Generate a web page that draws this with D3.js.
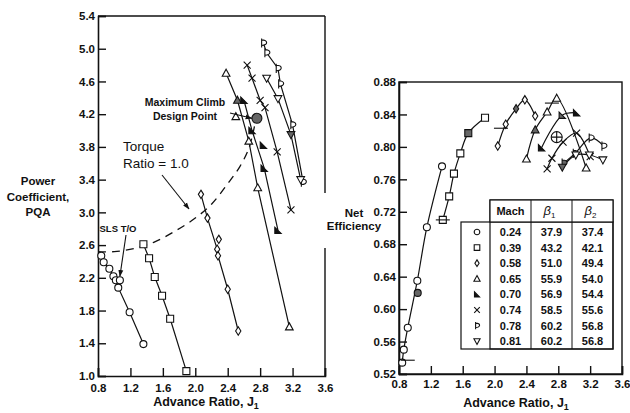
<!DOCTYPE html>
<html>
<head>
<meta charset="utf-8">
<script src="https://cdn.jsdelivr.net/npm/d3@7"></script>
<style>
body { margin: 0; background: #fff; }
text { font-family: "Liberation Sans", Arial, sans-serif; fill: #111; }
</style>
</head>
<body>
<div id="chart"></div>
<script>
// Axis ticks
var jTicks = [0.8, 1.2, 1.6, 2.0, 2.4, 2.8, 3.2, 3.6];
var pqaTicks = [1.0, 1.4, 1.8, 2.2, 2.6, 3.0, 3.4, 3.8, 4.2, 4.6, 5.0, 5.4];
var effTicks = [0.52, 0.56, 0.60, 0.64, 0.68, 0.72, 0.76, 0.80, 0.84, 0.88];

// Legend table
var machs = ["0.24", "0.39", "0.58", "0.65", "0.70", "0.74", "0.78", "0.81"];
var beta1 = ["37.9", "43.2", "51.0", "55.9", "56.9", "58.5", "60.2", "60.2"];
var beta2 = ["37.4", "42.1", "49.4", "54.0", "54.4", "55.6", "56.8", "56.8"];
var symbolTypes = ["circle", "square", "diamond", "triangle", "halftri", "cross", "dflag", "tridown"];

// Power coefficient PQA vs advance ratio J1, one curve per Mach number
var pqaCurves = [
    [[0.84, 2.47], [0.87, 2.39], [0.94, 2.31], [0.99, 2.22], [1.02, 2.17], [1.05, 2.08], [1.19, 1.78], [1.36, 1.39]],
    [[1.36, 2.61], [1.43, 2.44], [1.50, 2.21], [1.59, 1.98], [1.69, 1.70], [1.89, 1.06]],
    [[2.07, 3.22], [2.15, 2.93], [2.27, 2.55], [2.28, 2.47], [2.40, 2.06], [2.53, 1.55]],
    [[2.38, 4.70], [2.52, 4.37], [2.66, 3.87], [2.77, 3.30], [3.16, 1.60]],
    [[2.60, 4.37], [2.70, 4.00], [2.85, 3.54], [3.02, 2.78]],
    [[2.64, 4.80], [2.70, 4.64], [2.80, 4.37], [2.86, 4.28], [3.01, 3.74], [3.18, 3.03]],
    [[2.84, 5.07], [2.88, 4.95], [3.02, 4.76], [3.05, 4.57], [3.20, 4.07], [3.33, 3.37]],
    [[2.88, 4.64], [3.02, 4.39], [3.18, 3.95], [3.30, 3.40]]
];
// markers that sit off the curves: [series, J, PQA]
var pqaLoose = [[0, 1.07, 2.17], [2, 2.29, 2.67], [3, 2.50, 4.17], [4, 2.84, 3.82]];
// shaded (test condition) markers: [series, point index]
var pqaShaded = [[3, 1], [7, 2]];
var torqueRatio = [[0.80, 2.52], [1.00, 2.52], [1.25, 2.56], [1.50, 2.64], [1.75, 2.77], [2.00, 2.93],
    [2.20, 3.10], [2.40, 3.35], [2.55, 3.56], [2.66, 3.78], [2.73, 4.05]];
var pqaDesign = [2.76, 4.15];

// Net efficiency vs advance ratio J1
var effCurves = [
    [[0.84, 0.534], [0.86, 0.550], [0.91, 0.577], [1.03, 0.635], [1.15, 0.701], [1.34, 0.776]],
    [[1.35, 0.710], [1.43, 0.739], [1.49, 0.767], [1.57, 0.792], [1.67, 0.817], [1.88, 0.836]],
    [[2.04, 0.801], [2.14, 0.828], [2.27, 0.847], [2.38, 0.858], [2.51, 0.838]],
    [[2.40, 0.785], [2.51, 0.821], [2.66, 0.843], [2.78, 0.860], [3.15, 0.774]],
    [[2.59, 0.799], [2.85, 0.839], [3.03, 0.842]],
    [[2.66, 0.773], [2.72, 0.786], [2.86, 0.806], [3.03, 0.817], [3.20, 0.788]],
    [[2.87, 0.780], [3.01, 0.792], [3.21, 0.811], [3.37, 0.801]],
    [[2.85, 0.775], [3.02, 0.790], [3.19, 0.790], [3.36, 0.784]]
];
var effLoose = [[0, 1.035, 0.620]];
var effLooseShaded = [true];
var effShaded = [[1, 4], [2, 2], [3, 1], [4, 1], [6, 0], [6, 1], [7, 0]];
var effBars = [[0.91, 0.537], [1.35, 0.710], [2.08, 0.823], [2.72, 0.854]];
var effDesign = [2.78, 0.812];

var width = 630, height = 413;
var svg = d3.select("#chart").append("svg")
    .attr("width", width)
    .attr("height", height);

var defs = svg.append("defs");
defs.append("marker")
    .attr("id", "arrow")
    .attr("viewBox", "0 0 10 10")
    .attr("refX", 9).attr("refY", 5)
    .attr("markerWidth", 7).attr("markerHeight", 7)
    .attr("markerUnits", "userSpaceOnUse")
    .attr("orient", "auto")
    .append("path")
    .attr("d", "M0,1.5 L10,5 L0,8.5 Z")
    .attr("fill", "#111");

// Scales
var xL = d3.scaleLinear().domain([0.8, 3.6]).range([98, 325]);
var yL = d3.scaleLinear().domain([1.0, 5.4]).range([376, 16]);
var xR = d3.scaleLinear().domain([0.8, 3.6]).range([399, 622]);
var yR = d3.scaleLinear().domain([0.52, 0.88]).range([374, 82]);

/**
 * Path for a marker of the given type, centred on 0,0
 */
function markerPath(type, s) {
    switch (type) {
        case "circle": return "M" + s + ",0A" + s + "," + s + " 0 1,1 " + (-s) + ",0A" + s + "," + s + " 0 1,1 " + s + ",0Z";
        case "square": return "M" + (-s) + "," + (-s) + "H" + s + "V" + s + "H" + (-s) + "Z";
        case "diamond": return "M0," + (-1.2 * s) + "L" + (0.75 * s) + ",0L0," + (1.2 * s) + "L" + (-0.75 * s) + ",0Z";
        case "triangle": return "M0," + (-1.15 * s) + "L" + (1.1 * s) + "," + (0.85 * s) + "L" + (-1.1 * s) + "," + (0.85 * s) + "Z";
        case "tridown": return "M0," + (1.15 * s) + "L" + (1.1 * s) + "," + (-0.85 * s) + "L" + (-1.1 * s) + "," + (-0.85 * s) + "Z";
        case "halftri": return "M" + (-0.9 * s) + "," + (-0.9 * s) + "L" + (-0.9 * s) + "," + (0.9 * s) + "L" + (0.9 * s) + "," + (0.9 * s) + "Z";
        case "cross": return "M" + (-s) + "," + (-s) + "L" + s + "," + s + "M" + s + "," + (-s) + "L" + (-s) + "," + s;
        case "dflag": return "M" + (-0.5 * s) + "," + (-1.3 * s) + "V" + (1.3 * s) +
            "M" + (-0.5 * s) + "," + (-0.9 * s) + "C" + (1.4 * s) + "," + (-0.9 * s) + " " + (1.4 * s) + "," + (0.7 * s) + " " + (-0.5 * s) + "," + (0.7 * s);
    }
}

function drawMarker(g, type, x, y, s, shaded) {
    var fill = type == "halftri" ? "#111" : (type == "cross" ? "none" : "#fff");
    if (shaded) fill = "#666";
    g.append("path")
        .attr("transform", "translate(" + x + "," + y + ")")
        .attr("d", markerPath(type, s))
        .attr("fill", fill)
        .attr("stroke", "#111")
        .attr("stroke-width", 1.1);
}

function drawAxes(g, x, y, yTicks, yFmt, xPad, yPad) {
    g.append("g")
        .attr("transform", "translate(0," + y.range()[0] + ")")
        .call(d3.axisBottom(x).tickValues(jTicks).tickFormat(d3.format(".1f")).tickSize(-8).tickPadding(xPad))
        .call(styleAxis);
    g.append("g")
        .attr("transform", "translate(" + x.range()[0] + ",0)")
        .call(d3.axisLeft(y).tickValues(yTicks).tickFormat(d3.format(yFmt)).tickSize(-8).tickPadding(yPad))
        .call(styleAxis);
}

function styleAxis(a) {
    a.select(".domain").attr("stroke", "#111").attr("stroke-width", 1.6);
    a.selectAll(".tick line").attr("stroke", "#111").attr("stroke-width", 1.4);
    a.selectAll(".tick text")
        .attr("font-family", "'Liberation Sans', Arial, sans-serif")
        .attr("font-size", 11.5)
        .attr("font-weight", "bold")
        .attr("fill", "#111");
}

function drawCurves(g, x, y, curves, curve, shadedList) {
    var line = d3.line().x(function(d) { return x(d[0]); }).y(function(d) { return y(d[1]); }).curve(curve);
    curves.forEach(function(pts, i) {
        g.append("path")
            .attr("d", line(pts))
            .attr("fill", "none")
            .attr("stroke", "#111")
            .attr("stroke-width", 1.2);
    });
    curves.forEach(function(pts, i) {
        pts.forEach(function(p, j) {
            var shaded = shadedList.some(function(s) { return s[0] == i && s[1] == j; });
            drawMarker(g, symbolTypes[i], x(p[0]), y(p[1]), 3.5, shaded);
        });
    });
}

function axisTitle(g, cx, y) {
    var t = g.append("text").attr("x", cx).attr("y", y).attr("text-anchor", "middle")
        .attr("font-size", 12.5).attr("font-weight", "bold");
    t.append("tspan").text("Advance Ratio, J");
    t.append("tspan").attr("font-size", 9).attr("dy", 2.5).text("1");
}

function arrow(g, x1, y1, x2, y2) {
    g.append("line").attr("x1", x1).attr("y1", y1).attr("x2", x2).attr("y2", y2)
        .attr("stroke", "#111").attr("stroke-width", 1.1).attr("marker-end", "url(#arrow)");
}

// ---------------- Left chart: power coefficient ----------------
var left = svg.append("g");

// box (right edge broken where the efficiency label sits)
left.append("line").attr("x1", xL(0.8)).attr("x2", xL(3.6)).attr("y1", yL(5.4)).attr("y2", yL(5.4))
    .attr("stroke", "#111").attr("stroke-width", 1.4);
left.append("line").attr("x1", xL(3.6)).attr("x2", xL(3.6)).attr("y1", yL(5.4)).attr("y2", 193)
    .attr("stroke", "#111").attr("stroke-width", 1.4);
left.append("line").attr("x1", xL(3.6)).attr("x2", xL(3.6)).attr("y1", 248).attr("y2", yL(1.0))
    .attr("stroke", "#111").attr("stroke-width", 1.4);

drawAxes(left, xL, yL, pqaTicks, ".1f", 8, 3);

// torque ratio = 1.0 line
left.append("path")
    .attr("d", d3.line().x(function(d) { return xL(d[0]); }).y(function(d) { return yL(d[1]); })
        .curve(d3.curveCatmullRom)(torqueRatio))
    .attr("fill", "none")
    .attr("stroke", "#111")
    .attr("stroke-width", 1.3)
    .attr("stroke-dasharray", "8,6");

drawCurves(left, xL, yL, pqaCurves, d3.curveLinear, pqaShaded);
pqaLoose.forEach(function(p) {
    drawMarker(left, symbolTypes[p[0]], xL(p[1]), yL(p[2]), 3.5, false);
});
drawMarker(left, "circle", xL(pqaDesign[0]), yL(pqaDesign[1]), 5, true);

// y axis title
[["Power", 185], ["Coefficient,", 201], ["PQA", 216]].forEach(function(t) {
    left.append("text").attr("x", 38).attr("y", t[1]).attr("text-anchor", "middle")
        .attr("font-size", 11.5).attr("font-weight", "bold").text(t[0]);
});
axisTitle(left, 206, 406);

// annotations
left.append("text").attr("x", 185).attr("y", 106).attr("text-anchor", "middle")
    .attr("font-size", 10.5).attr("font-weight", "bold").text("Maximum Climb");
left.append("text").attr("x", 185).attr("y", 120).attr("text-anchor", "middle")
    .attr("font-size", 10.5).attr("font-weight", "bold").text("Design Point");
left.append("text").attr("x", 123).attr("y", 151).attr("font-size", 13.5).text("Torque");
left.append("text").attr("x", 123).attr("y", 168).attr("font-size", 13.5).text("Ratio =  1.0");
left.append("text").attr("x", 118).attr("y", 232).attr("text-anchor", "middle")
    .attr("font-size", 9.5).attr("font-weight", "bold").text("SLS T/O");

arrow(left, 230, 113, xL(pqaDesign[0]) - 5, yL(pqaDesign[1]));
arrow(left, 162, 175, 189, 209);
arrow(left, 126, 235, xL(pqaLoose[0][1]), yL(pqaLoose[0][2]) - 4);

// ---------------- Right chart: net efficiency ----------------
var right = svg.append("g");

// y axis title, drawn first so the tick labels stay on top
right.append("text").attr("x", 354).attr("y", 217).attr("text-anchor", "middle")
    .attr("font-size", 11.5).attr("font-weight", "bold").text("Net");
right.append("text").attr("x", 354).attr("y", 230).attr("text-anchor", "middle")
    .attr("font-size", 11.5).attr("font-weight", "bold").text("Efficiency");

right.append("rect")
    .attr("x", xR(0.8)).attr("y", yR(0.88))
    .attr("width", xR(3.6) - xR(0.8)).attr("height", yR(0.52) - yR(0.88))
    .attr("fill", "none").attr("stroke", "#111").attr("stroke-width", 1.4);

drawAxes(right, xR, yR, effTicks, ".2f", 6, 3);

drawCurves(right, xR, yR, effCurves, d3.curveCatmullRom, effShaded);
effLoose.forEach(function(p, i) {
    drawMarker(right, symbolTypes[p[0]], xR(p[1]), yR(p[2]), 3.5, effLooseShaded[i]);
});
effBars.forEach(function(b) {
    right.append("line")
        .attr("x1", xR(b[0]) - 7).attr("x2", xR(b[0]) + 7)
        .attr("y1", yR(b[1])).attr("y2", yR(b[1]))
        .attr("stroke", "#111").attr("stroke-width", 1.1);
});
// design point, circled cross
drawMarker(right, "circle", xR(effDesign[0]), yR(effDesign[1]), 5.5, false);
right.append("path")
    .attr("transform", "translate(" + xR(effDesign[0]) + "," + yR(effDesign[1]) + ")")
    .attr("d", "M-5.5,0H5.5M0,-5.5V5.5")
    .attr("stroke", "#111").attr("stroke-width", 1.1);

axisTitle(right, 516, 407);

// legend table
var tLeft = 461, tCols = [490, 531, 572, 613], tTop = 200, tHead = 222, tBottom = 349, rowH = 15.6;
var table = right.append("g");
table.append("rect").attr("x", tLeft).attr("y", tHead).attr("width", tCols[3] - tLeft).attr("height", tBottom - tHead)
    .attr("fill", "#fff").attr("stroke", "#111").attr("stroke-width", 1.2);
table.append("rect").attr("x", tCols[0]).attr("y", tTop).attr("width", tCols[3] - tCols[0]).attr("height", tBottom - tTop)
    .attr("fill", "none").attr("stroke", "#111").attr("stroke-width", 1.2);
table.append("rect").attr("x", tCols[0]).attr("y", tTop).attr("width", tCols[3] - tCols[0]).attr("height", tHead - tTop)
    .attr("fill", "#fff").attr("stroke", "#111").attr("stroke-width", 1.2);
[tCols[1], tCols[2]].forEach(function(cx) {
    table.append("line").attr("x1", cx).attr("x2", cx).attr("y1", tTop).attr("y2", tBottom)
        .attr("stroke", "#111").attr("stroke-width", 1);
});
table.append("text").attr("x", (tCols[0] + tCols[1]) / 2).attr("y", 215).attr("text-anchor", "middle")
    .attr("font-size", 11).attr("font-weight", "bold").text("Mach");
[1, 2].forEach(function(k) {
    var t = table.append("text").attr("x", (tCols[k] + tCols[k + 1]) / 2 - 2).attr("y", 215).attr("text-anchor", "middle")
        .attr("font-family", "'Liberation Serif', serif").attr("font-style", "italic").attr("font-size", 13);
    t.append("tspan").text("\u03b2");
    t.append("tspan").attr("font-size", 8).attr("dy", 3).attr("font-style", "normal")
        .attr("font-family", "'Liberation Sans', sans-serif").text(k);
});
machs.forEach(function(m, i) {
    var cy = 232 + i * rowH;
    drawMarker(table, symbolTypes[i], 477, cy, 2.8, false);
    [m, beta1[i], beta2[i]].forEach(function(v, k) {
        table.append("text").attr("x", (tCols[k] + tCols[k + 1]) / 2).attr("y", cy + 4)
            .attr("text-anchor", "middle").attr("font-size", 11).attr("font-weight", "bold").text(v);
    });
});
</script>
</body>
</html>
